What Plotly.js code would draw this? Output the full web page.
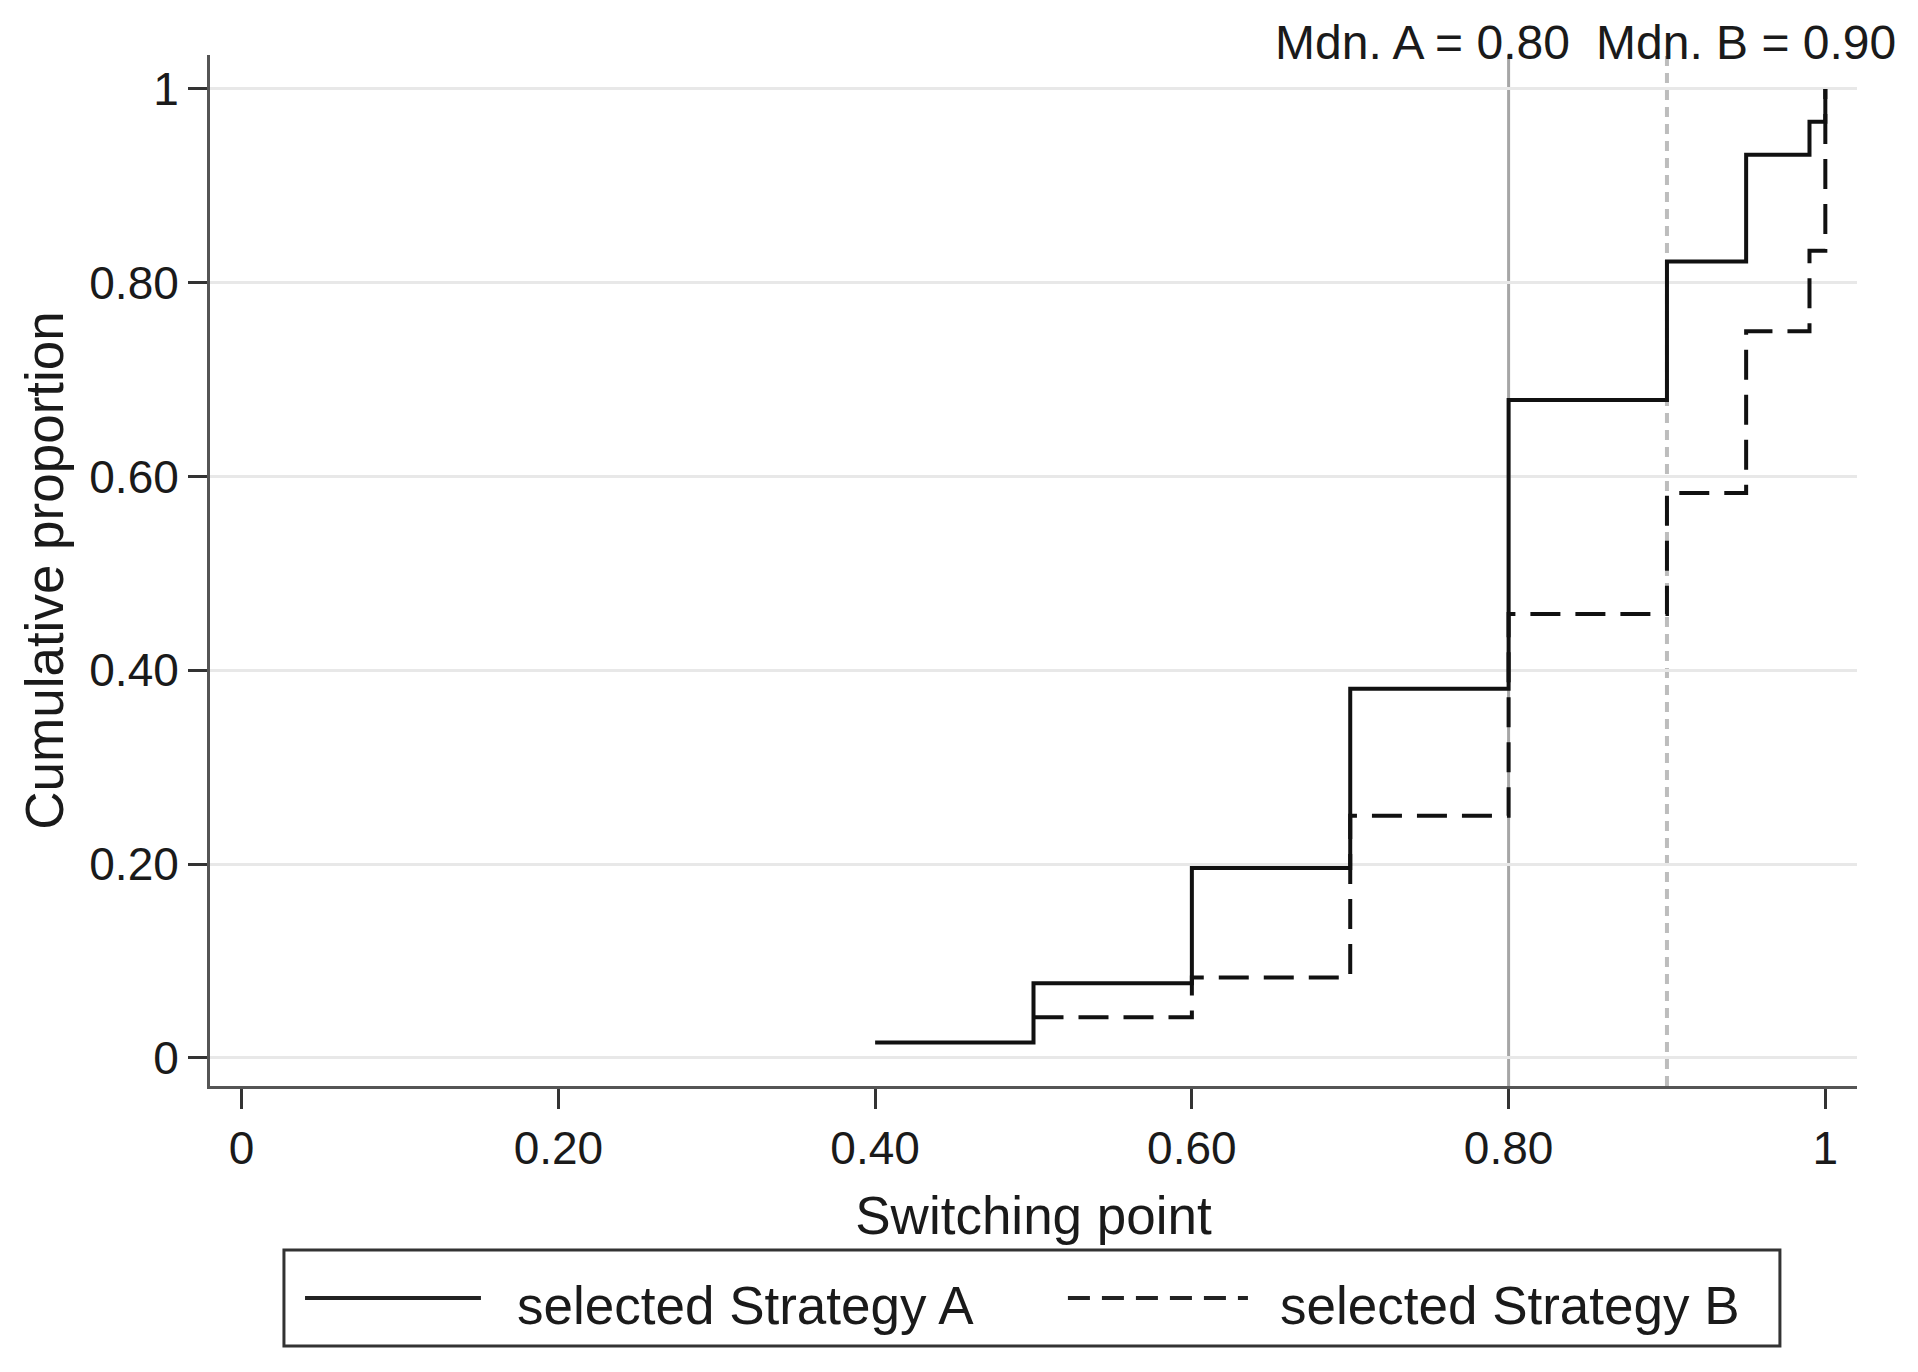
<!DOCTYPE html>
<html>
<head>
<meta charset="utf-8">
<script src="https://cdn.plot.ly/plotly-3.0.1.min.js"></script>
<style>html,body{margin:0;padding:0;background:#fff;}#chart{width:1918px;height:1372px;}</style>
</head>
<body>
<div id="chart"></div>
<script>
// Data
const xA = [0.40, 0.50, 0.60, 0.70, 0.80, 0.90, 0.95, 0.99, 1.00];
const yA = [0.016, 0.077, 0.196, 0.381, 0.679, 0.822, 0.932, 0.966, 1.00];
const xB = [0.50, 0.60, 0.70, 0.80, 0.90, 0.95, 0.99, 1.00];
const yB = [0.042, 0.083, 0.250, 0.458, 0.583, 0.750, 0.833, 1.00];
const seriesNames = ["selected Strategy A", "selected Strategy B"];
const medians = [0.80, 0.90];
const medianLabels = ["Mdn. A = 0.80", "Mdn. B = 0.90"];
const tickVals = [0, 0.2, 0.4, 0.6, 0.8, 1];
const tickText = ["0", "0.20", "0.40", "0.60", "0.80", "1"];

const FONT = "Liberation Sans, Arial, Helvetica, sans-serif";
const INK = "#1a1a1a";

const traces = [
  {x: xA, y: yA, type: "scatter", mode: "lines", name: seriesNames[0],
   line: {shape: "hv", color: "#111", width: 4}, showlegend: false},
  {x: xB, y: yB, type: "scatter", mode: "lines", name: seriesNames[1],
   line: {shape: "hv", color: "#111", width: 4, dash: "30px,15px"}, showlegend: false}
];

// legend geometry in paper coords
const lg = {x0: 0.0449, x1: 0.9532, y0: -0.2522, y1: -0.1591, yc: -0.2056,
            la0: 0.0577, la1: 0.1645, ta: 0.1852, lb0: 0.5209, lb1: 0.6302, tb: 0.6485};

const shapes = [
  {type: "line", xref: "x", yref: "paper", x0: medians[0], x1: medians[0], y0: 0, y1: 1,
   line: {color: "#a6a6a6", width: 3}, layer: "between"},
  {type: "line", xref: "x", yref: "paper", x0: medians[1], x1: medians[1], y0: 0, y1: 1,
   line: {color: "#bdbdbd", width: 4, dash: "10px,7px"}, layer: "between"},
  {type: "rect", xref: "paper", yref: "paper", x0: lg.x0, x1: lg.x1, y0: lg.y0, y1: lg.y1,
   line: {color: "#333", width: 3}, fillcolor: "rgba(0,0,0,0)"},
  {type: "line", xref: "paper", yref: "paper", x0: lg.la0, x1: lg.la1, y0: lg.yc, y1: lg.yc,
   line: {color: "#222", width: 4}},
  {type: "line", xref: "paper", yref: "paper", x0: lg.lb0, x1: lg.lb1, y0: lg.yc, y1: lg.yc,
   line: {color: "#222", width: 4, dash: "22px,12px"}}
];

const annotations = [
  {x: medians[0], xref: "x", y: 1.0117, yref: "paper", text: medianLabels[0], showarrow: false,
   xanchor: "right", yanchor: "middle", xshift: 63, font: {family: FONT, size: 48, color: INK}},
  {x: medians[1], xref: "x", y: 1.0117, yref: "paper", text: medianLabels[1], showarrow: false,
   xanchor: "left", yanchor: "middle", xshift: -73, font: {family: FONT, size: 48, color: INK}},
  {x: lg.ta, xref: "paper", y: lg.yc, yref: "paper", text: seriesNames[0], showarrow: false,
   xanchor: "left", yanchor: "middle", yshift: -8, font: {family: FONT, size: 53, color: INK}},
  {x: lg.tb, xref: "paper", y: lg.yc, yref: "paper", text: seriesNames[1], showarrow: false,
   xanchor: "left", yanchor: "middle", yshift: -8, font: {family: FONT, size: 53, color: INK}}
];

const layout = {
  width: 1918, height: 1372,
  margin: {l: 210, r: 61, t: 55, b: 286},
  paper_bgcolor: "#fff", plot_bgcolor: "#fff",
  font: {family: FONT, color: INK, size: 46},
  showlegend: false,
  xaxis: {
    range: [-0.02, 1.02], tickvals: tickVals, ticktext: tickText,
    showgrid: false, zeroline: false,
    showline: true, linecolor: "#555", linewidth: 3,
    ticks: "outside", ticklen: 20, tickwidth: 3, tickcolor: "#333",
    tickfont: {family: FONT, size: 46, color: INK},
    title: {text: "Switching point", font: {family: FONT, size: 53, color: INK}, standoff: 24}
  },
  yaxis: {
    range: [-0.029, 1.035], tickvals: tickVals, ticktext: tickText,
    showgrid: true, gridcolor: "#e8e8e8", gridwidth: 3, zeroline: false,
    showline: true, linecolor: "#555", linewidth: 3,
    ticks: "outside", ticklen: 19, tickwidth: 3, tickcolor: "#333",
    tickfont: {family: FONT, size: 46, color: INK},
    title: {text: "Cumulative proportion", font: {family: FONT, size: 53, color: INK}, standoff: 9}
  },
  shapes: shapes,
  annotations: annotations
};

Plotly.newPlot("chart", traces, layout, {displayModeBar: false, staticPlot: true});
</script>
</body>
</html>
